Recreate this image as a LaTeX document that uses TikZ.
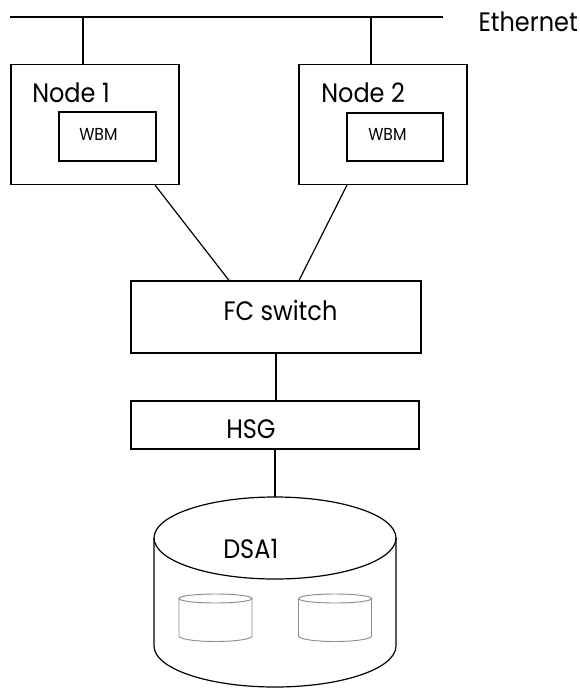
\documentclass[tikz,border=0pt]{standalone}
\usepackage{fontspec}
\usetikzlibrary{calc,positioning}
\newfontfamily\diafont[FakeStretch=0.9]{Poppins}

\tikzset{
  box/.style={draw, line width=0.9pt, rectangle, inner sep=0pt},
  bigtxt/.style={font=\diafont\fontsize{20}{23}\selectfont, inner sep=0pt},
  smalltxt/.style={font=\diafont\fontsize{13}{15}\selectfont, inner sep=0pt},
  wire/.style={line width=0.9pt},
  disk/.style={line width=0.7pt, draw=black!45}
}

\begin{document}
\begin{tikzpicture}[x=0.75pt, y=-0.75pt]
			\useasboundingbox (0,0) rectangle (580,688);
			% ethernet
			\coordinate (eth-l) at (10,17);
			\coordinate (eth-r) at (443,17);
			\draw[wire] (eth-l) -- (eth-r);
			\node[bigtxt, anchor=base east] (eth) at (578,32) {Ethernet};
			% the two nodes
			\node[box, minimum width=126pt, minimum height=90pt] (n1) at (95,124.5) {};
			\node[box, minimum width=126pt, minimum height=90pt] (n2) at (383,124.5) {};
			\node[bigtxt, anchor=base west] (n1-txt) at (32,103) {Node 1};
			\node[bigtxt, anchor=base west] (n2-txt) at (321,103) {Node 2};
			\node[box, minimum width=72.75pt, minimum height=36.75pt] (wbm1) at (107.5,136.5) {};
			\node[box, minimum width=72pt, minimum height=36pt] (wbm2) at (395,137) {};
			\node[smalltxt, anchor=base west] (wbm1-txt) at (79,141) {WBM};
			\node[smalltxt, anchor=base west] (wbm2-txt) at (368,141) {WBM};
			\draw[wire] ([xshift=-9pt]n1.north |- eth-l) -- ([xshift=-9pt]n1.north);
			\draw[wire] ([xshift=-9pt]n2.north |- eth-l) -- ([xshift=-9pt]n2.north);
			% switch and hsg
			\node[box, minimum width=217.5pt, minimum height=54pt] (fc) at (276,317) {};
			\node[bigtxt, anchor=base] (fc-txt) at (280.5,320) {FC switch};
			\node[box, minimum width=216pt, minimum height=36pt] (hsg) at (275,425) {};
			\node[bigtxt, anchor=base west] (hsg-txt) at (226,438) {HSG};
			\draw[wire] ([xshift=45pt]n1.south) -- ([xshift=-35.25pt]fc.north);
			\draw[wire] ([xshift=-27pt]n2.south) -- ([xshift=17.25pt]fc.north);
			\draw[wire] (fc.south) -- (fc.south |- hsg.north);
			% storage
			\coordinate (dsa-top) at (275,497);
			\draw[wire] (hsg.south -| dsa-top) -- (dsa-top);
			\draw[wire] (275,538) ellipse [x radius=121, y radius=41];
			\draw[wire] (154,538) -- (154,646) arc [start angle=180, end angle=0, x radius=121, y radius=41] -- (396,538);
			\node[bigtxt, anchor=base west] (dsa) at (223,558) {DSA1};
			\foreach \cx in {215.5,335}{
				\draw[disk] (\cx,598.5) ellipse [x radius=36.5, y radius=4.5];
				\draw[disk] (\cx-36.5,598.5) -- (\cx-36.5,636) arc [start angle=180, end angle=0, x radius=36.5, y radius=5.5] -- (\cx+36.5,598.5);
			}
		\end{tikzpicture}
\end{document}
